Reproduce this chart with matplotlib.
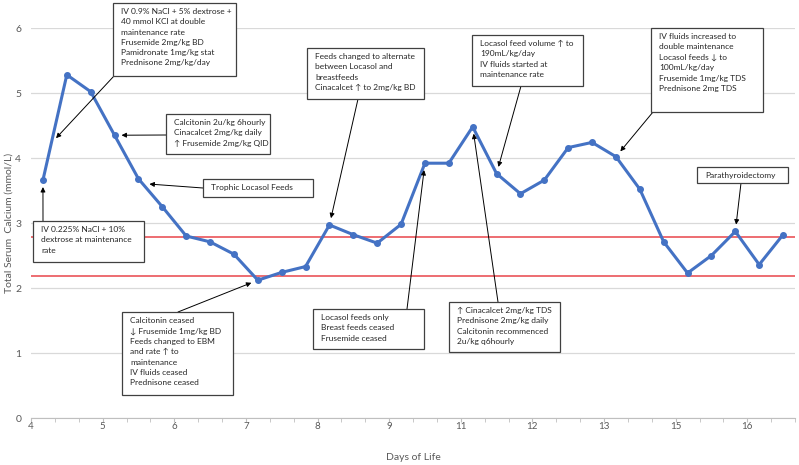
import numpy as np
import matplotlib
matplotlib.use("Agg")
import matplotlib.pyplot as plt
from matplotlib.patches import Rectangle

plt.rcParams['font.family'] = ['Lato', 'DejaVu Sans']

# serum calcium readings, one per category slot
calcium = [3.66, 5.28, 5.02, 4.35, 3.68, 3.25, 2.80, 2.71, 2.52, 2.12,
           2.24, 2.33, 2.97, 2.82, 2.69, 2.98, 3.92, 3.92, 4.48, 3.76,
           3.45, 3.66, 4.16, 4.24, 4.02, 3.52, 2.71, 2.23, 2.50, 2.87,
           2.36, 2.82]
day_labels = ['4', '5', '6', '7', '8', '9', '11', '12', '13', '15', '16']
normal_low = 2.18
normal_high = 2.78

notes = [
    "IV 0.9% NaCl + 5% dextrose +\n40 mmol KCl at double\nmaintenance rate\n"
    "Frusemide 2mg/kg BD\nPamidronate 1mg/kg stat\nPrednisone 2mg/kg/day",
    "IV 0.225% NaCl + 10%\ndextrose at maintenance\nrate",
    "Calcitonin 2u/kg 6hourly\nCinacalcet 2mg/kg daily\n\u2191 Frusemide 2mg/kg QID",
    "Trophic Locasol Feeds",
    "Calcitonin ceased\n\u2193 Frusemide 1mg/kg BD\nFeeds changed to EBM\nand rate \u2191 to\n"
    "maintenance\nIV fluids ceased\nPrednisone ceased",
    "Feeds changed to alternate\nbetween Locasol and\nbreastfeeds\nCinacalcet \u2191 to 2mg/kg BD",
    "Locasol feeds only\nBreast feeds ceased\nFrusemide ceased",
    "\u2191 Cinacalcet 2mg/kg TDS\nPrednisone 2mg/kg daily\nCalcitonin recommenced\n2u/kg q6hourly",
    "Locasol feed volume \u2191 to\n190mL/kg/day\nIV fluids started at\nmaintenance rate",
    "IV fluids increased to\ndouble maintenance\nLocasol feeds \u2193 to\n100mL/kg/day\n"
    "Frusemide 1mg/kg TDS\nPrednisone 2mg TDS",
    "Parathyroidectomy",
]
# which reading each note points at (fractional = along the line)
note_index = [0.35, 0.0, 3.0, 4.17, 9.0, 12.0, 16.0, 18.0, 19.0, 24.0, 29.0]

# box layout in pixels: left, top, right, bottom, arrow start x, y
boxes = [
    (113, 3, 236, 76, 114, 76),
    (33, 221, 144, 262, 43, 221),
    (166, 114, 270, 154, 166, 135),
    (203, 179, 313, 197, 203, 188),
    (122, 312, 233, 395, 178, 312),
    (307, 48, 424, 99, 358, 99),
    (313, 309, 424, 349, 407, 309),
    (449, 302, 560, 352, 498, 302),
    (472, 35, 583, 86, 521, 86),
    (651, 28, 763, 112, 653, 112),
    (697, 167, 788, 183, 741, 183),
]

W, H = 799, 465
fig = plt.figure(figsize=(W / 100, H / 100), dpi=100)
ax = fig.add_axes([31 / W, 1 - 418 / H, (795 - 31) / W, (418 - 28) / H])

n = len(calcium)
x = np.arange(n) + 0.5
ax.set_xlim(0, n)
ax.set_ylim(0, 6)

ax.yaxis.grid(True, color='#d9d9d9', lw=0.9)
ax.set_axisbelow(True)
ax.axhline(normal_high, color='#e8454a', lw=1.1)
ax.axhline(normal_low, color='#e8454a', lw=1.1)
ax.plot(x, calcium, color='#4472c4', lw=2.2, marker='o', ms=4, zorder=3)

for s in ['top', 'right', 'left']:
    ax.spines[s].set_visible(False)
ax.spines['bottom'].set_color('#bfbfbf')

ax.set_xticks(np.arange(0, n + 1), minor=True)
ax.set_xticks(np.arange(0, 3 * len(day_labels), 3))
ax.set_xticklabels(day_labels)
ax.tick_params(axis='x', which='both', length=3, color='#bfbfbf',
               labelsize=7, labelcolor='#595959', pad=0)
ax.tick_params(axis='y', length=0, labelsize=7.5, labelcolor='#595959', pad=7)
ax.set_yticks(range(7))

ax.set_xlabel('Days of Life', fontsize=7.5, color='#595959', labelpad=16)
ax.set_ylabel('Total Serum  Calcium (mmol/L)', fontsize=7.5, color='#595959',
              labelpad=1)

idx = np.arange(n) + 0.5
for text, i, (l, t, r, b, sx, sy) in zip(notes, note_index, boxes):
    fig.patches.append(Rectangle((l / W, 1 - b / H), (r - l) / W, (b - t) / H,
                                 transform=fig.transFigure, fill=True,
                                 facecolor='white', edgecolor='#404040',
                                 lw=0.9, zorder=5))
    fig.text((l + 8) / W, 1 - (t + 5) / H, text, fontsize=6.0, va='top',
             ha='left', color='#262626', linespacing=1.55, zorder=6)
    yv = np.interp(i + 0.5, idx, calcium)
    ax.annotate('', xy=(i + 0.5, yv), xycoords='data',
                xytext=(sx / W, 1 - sy / H), textcoords='figure fraction',
                arrowprops=dict(arrowstyle='-|>', color='black', lw=0.7,
                                mutation_scale=7, shrinkA=0, shrinkB=5),
                annotation_clip=False, zorder=4)

fig.savefig('out.png', dpi=100)
